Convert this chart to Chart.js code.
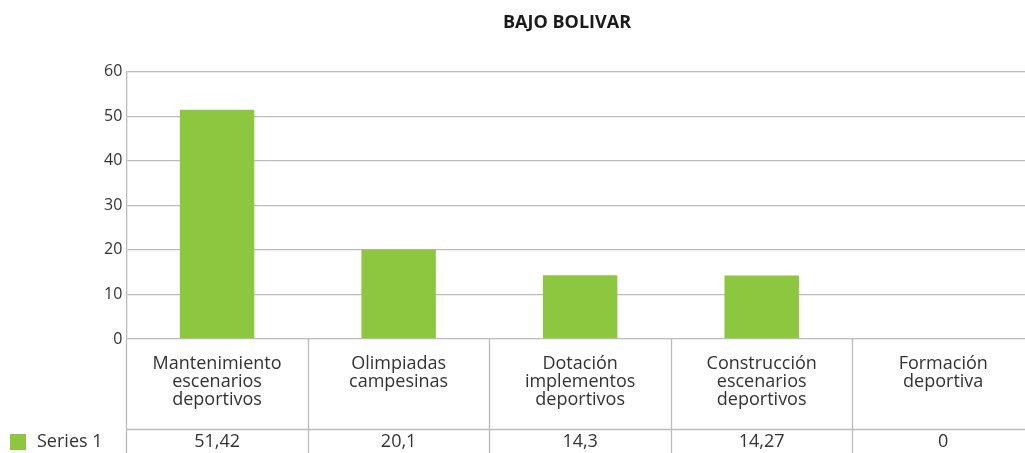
<!DOCTYPE html>
<html>
<head>
<meta charset="utf-8">
<script src="https://cdn.jsdelivr.net/npm/chart.js@4/dist/chart.umd.min.js"></script>
<style>
  html, body { margin: 0; padding: 0; background: #ffffff; overflow: hidden; }
  #wrap { position: absolute; left: 0; top: 0; width: 1068px; height: 453px; }
</style>
</head>
<body>
<div id="wrap"><canvas id="c" width="1068" height="453"></canvas></div>
<script>
const chartTitle = 'BAJO BOLIVAR';
const seriesName = 'Series 1';
const categoryLines = [
  ['Mantenimiento', 'escenarios', 'deportivos'],
  ['Olimpiadas', 'campesinas'],
  ['Dotación', 'implementos', 'deportivos'],
  ['Construcción', 'escenarios', 'deportivos'],
  ['Formación', 'deportiva']
];
const values = [51.42, 20.1, 14.3, 14.27, 0];
const yMin = 0, yMax = 60, yStep = 10;

const GREEN = '#8dc63f';
const GRID = '#bcbcc0';
const TEXT = '#333333';
const FONT = "'Open Sans', sans-serif";

const fmt = v => String(v).replace('.', ',');

const dataTable = {
  id: 'dataTable',
  afterDraw(chart) {
    const ctx = chart.ctx;
    const x = chart.scales.x;
    const area = chart.chartArea;
    const H = chart.height;
    const rowTop = area.bottom + 90;
    const n = categoryLines.length;
    const half = (x.getPixelForValue(1) - x.getPixelForValue(0)) / 2;
    ctx.save();
    ctx.strokeStyle = GRID;
    ctx.lineWidth = 1.3;
    for (let i = 0; i <= n; i++) {
      const px = (i < n ? x.getPixelForValue(i) - half : x.getPixelForValue(n - 1) + half);
      ctx.beginPath();
      ctx.moveTo(Math.round(px) + 0.5, area.bottom);
      ctx.lineTo(Math.round(px) + 0.5, H);
      ctx.stroke();
    }
    ctx.beginPath();
    ctx.moveTo(area.left, Math.round(rowTop) + 0.5);
    ctx.lineTo(area.right, Math.round(rowTop) + 0.5);
    ctx.stroke();
    const midY = rowTop + 13;
    ctx.fillStyle = GREEN;
    ctx.fillRect(10, midY - 8, 16, 16);
    ctx.fillStyle = TEXT;
    ctx.font = '18px ' + FONT;
    ctx.textBaseline = 'middle';
    ctx.textAlign = 'left';
    ctx.fillText(seriesName, 37, midY);
    ctx.textAlign = 'center';
    values.forEach((v, i) => {
      ctx.fillText(fmt(v), x.getPixelForValue(i), midY);
    });
    ctx.restore();
  }
};

new Chart(document.getElementById('c'), {
  type: 'bar',
  data: {
    labels: categoryLines,
    datasets: [{
      label: seriesName,
      data: values,
      backgroundColor: GREEN,
      borderWidth: 0,
      categoryPercentage: 1.0,
      barPercentage: 0.41
    }]
  },
  options: {
    responsive: false,
    animation: false,
    layout: { padding: { left: 100, right: 34, top: 0, bottom: 28 } },
    plugins: {
      legend: { display: false },
      tooltip: { enabled: false },
      title: {
        display: true,
        text: chartTitle,
        color: '#1a1a1a',
        font: { family: FONT, size: 18, weight: 'bold' },
        padding: { top: 12, bottom: 38 }
      }
    },
    scales: {
      x: {
        grid: { display: false, drawTicks: false },
        border: { display: false },
        ticks: {
          color: TEXT,
          font: { family: FONT, size: 18, lineHeight: 1.0 },
          padding: 16,
          maxRotation: 0,
          autoSkip: false
        }
      },
      y: {
        min: yMin,
        max: yMax,
        grid: { color: GRID, lineWidth: 1.3, drawTicks: false },
        border: { display: true, color: GRID, width: 1.3 },
        ticks: {
          stepSize: yStep,
          color: TEXT,
          font: { family: FONT, size: 16 },
          padding: 4
        }
      }
    }
  },
  plugins: [dataTable]
});
</script>
</body>
</html>
